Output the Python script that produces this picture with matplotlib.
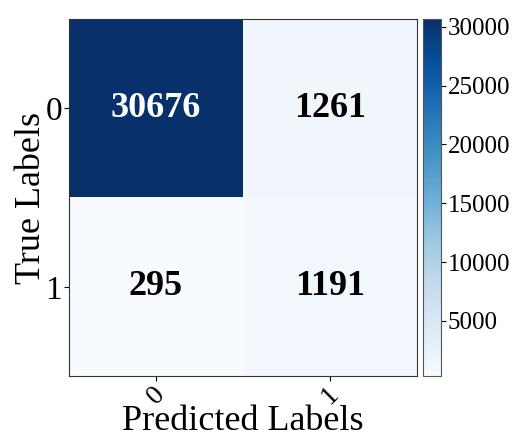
import numpy as np
import matplotlib
matplotlib.use("Agg")
import matplotlib.pyplot as plt

plt.rcParams['font.family'] = ['Liberation Serif', 'DejaVu Serif']

# confusion matrix values
cm = np.array([[30676, 1261],
               [295, 1191]])
class_labels = ['0', '1']
cbar_ticks = [5000, 10000, 15000, 20000, 25000, 30000]

fig = plt.figure(figsize=(5.15, 4.4), dpi=100)
ax = fig.add_axes([0.134, 0.145, 0.676, 0.812])
cax = fig.add_axes([0.822, 0.145, 0.034, 0.812])

im = ax.imshow(cm, cmap='Blues', vmin=cm.min(), vmax=cm.max(), aspect='auto')

thresh = (cm.max() + cm.min()) / 2
for i in range(cm.shape[0]):
    for j in range(cm.shape[1]):
        ax.text(j, i, str(cm[i, j]), ha='center', va='center',
                fontsize=26, fontweight='bold',
                color='white' if cm[i, j] > thresh else 'black')

ax.set_xticks(range(len(class_labels)))
ax.set_yticks(range(len(class_labels)))
ax.set_xticklabels(class_labels, rotation=45, fontsize=20)
ax.set_yticklabels(class_labels, rotation=0, fontsize=24)
ax.tick_params(axis='both', length=3.5, pad=1.5)
ax.tick_params(axis='x', pad=0.5)
ax.set_xlabel('Predicted Labels', fontsize=26, labelpad=-3)
ax.set_ylabel('True Labels', fontsize=26, labelpad=-2)
for s in ax.spines.values():
    s.set_edgecolor('#333333')

cb = fig.colorbar(im, cax=cax, ticks=cbar_ticks)
cb.ax.tick_params(labelsize=18, length=3.5, pad=1.5)
cb.outline.set_edgecolor('#555555')

fig.savefig('out.png', dpi=100)
